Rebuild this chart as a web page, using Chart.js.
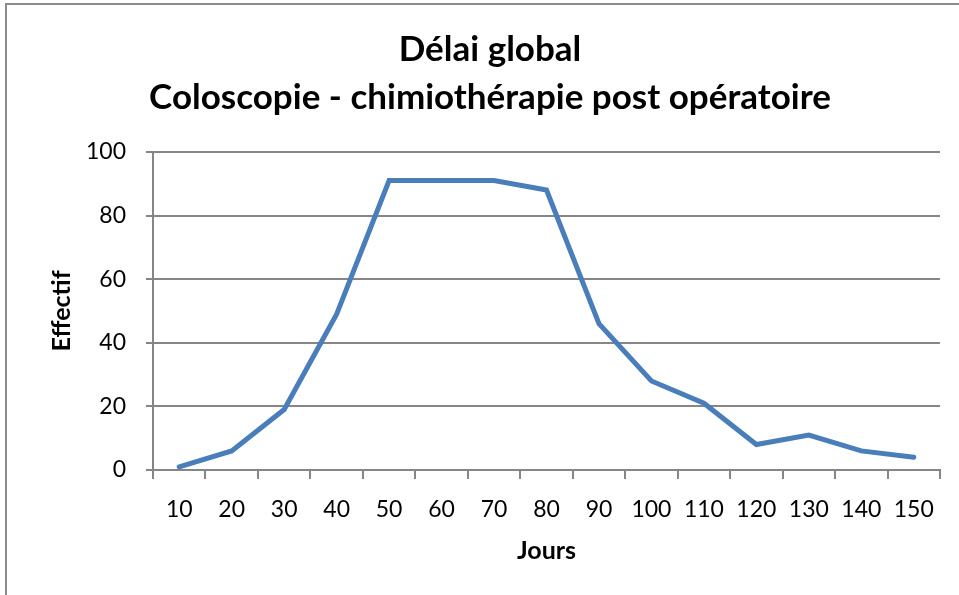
<!DOCTYPE html>
<html>
<head>
<meta charset="utf-8">
<script src="https://cdn.jsdelivr.net/npm/chart.js@4/dist/chart.umd.min.js"></script>
<style>
  html, body { margin: 0; padding: 0; background: #fff; overflow: hidden; }
  #frame { position: absolute; left: 5px; top: 3px; width: 1000px; height: 700px; border: 2px solid #8c8c8c; box-sizing: border-box; }
  /* canvas shifted so the title centres on the frame, as in the original */
  #wrap { position: absolute; left: 40px; top: 0; width: 919px; height: 595px; }
</style>
</head>
<body>
<div id="frame"></div>
<div id="wrap"><canvas id="c" width="919" height="595"></canvas></div>
<script>
  'use strict';

  // Délai (jours) par tranche de 10 jours
  const JOURS = ['10', '20', '30', '40', '50', '60', '70', '80', '90', '100', '110', '120', '130', '140', '150'];
  const EFFECTIF = [1, 6, 19, 49, 91, 91, 91, 88, 46, 28, 21, 8, 11, 6, 4];
  const Y_TICKS = [0, 20, 40, 60, 80, 100];

  const FONT = 'Lato, "Open Sans", sans-serif';
  const GRID = '#868686';

  new Chart(document.getElementById('c').getContext('2d'), {
    type: 'line',
    data: {
      labels: JOURS,
      datasets: [{
        data: EFFECTIF,
        borderColor: '#4a7ebb',
        borderWidth: 5,
        pointRadius: 0,
        tension: 0,
        borderJoinStyle: 'miter',
        borderCapStyle: 'round',
      }],
    },
    options: {
      responsive: false,
      animation: false,
      layout: { padding: { left: 0, right: 19, top: 0, bottom: 0 } },
      plugins: {
        legend: { display: false },
        tooltip: { enabled: false },
        title: {
          display: true,
          text: ['Délai global', 'Coloscopie - chimiothérapie post opératoire'],
          color: '#000',
          font: { family: FONT, size: 35, weight: 'bold', lineHeight: 1.37 },
          padding: { top: 26, bottom: 30 },
        },
      },
      scales: {
        x: {
          offset: true,
          grid: {
            offset: true,
            drawOnChartArea: false,
            color: GRID,
            lineWidth: 2,
            tickLength: 9,
          },
          border: { color: GRID, width: 2 },
          ticks: { color: '#000', font: { family: FONT, size: 23 }, padding: 17, maxRotation: 0, autoSkip: false },
          title: {
            display: true,
            text: 'Jours',
            color: '#000',
            font: { family: FONT, size: 25, weight: 'bold', lineHeight: 1.2 },
            padding: { top: 0, bottom: 29 },
          },
          afterFit(scale) { scale.height = 125; },
        },
        y: {
          min: 0,
          max: 100,
          afterBuildTicks(scale) { scale.ticks = Y_TICKS.map(v => ({ value: v })); },
          grid: { color: GRID, lineWidth: 2, tickLength: 7 },
          border: { color: GRID, width: 2 },
          ticks: { color: '#000', font: { family: FONT, size: 23 }, padding: 20 },
          title: {
            display: true,
            text: 'Effectif',
            color: '#000',
            font: { family: FONT, size: 25, weight: 'bold', lineHeight: 1.2 },
            padding: { top: 7, bottom: 0 },
          },
          afterFit(scale) { scale.width = 113; },
        },
      },
    },
  });
</script>
</body>
</html>
